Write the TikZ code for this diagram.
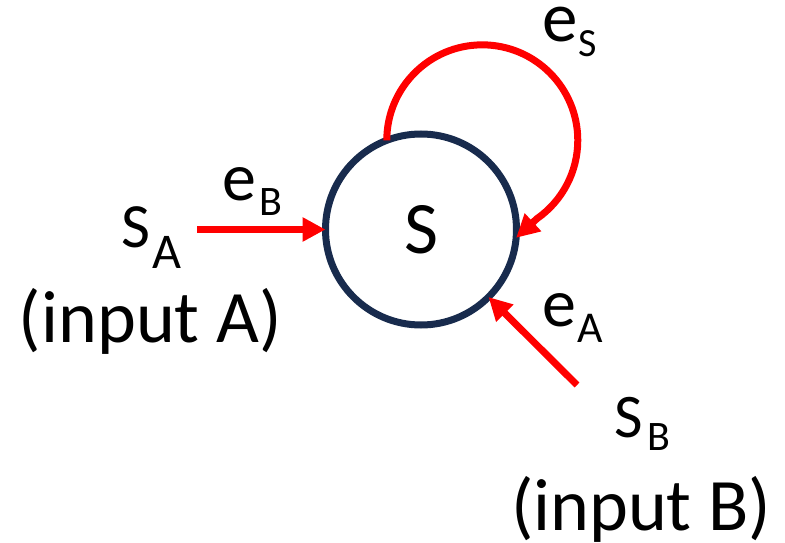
\documentclass[tikz,border=0pt]{standalone}
\usepackage{fontspec}
\setmainfont{Carlito}
\usetikzlibrary{arrows.meta}
\definecolor{navy}{RGB}{24,43,77}
\definecolor{linkred}{RGB}{255,0,0}
\newcommand{\fs}[1]{\fontsize{#1pt}{#1pt}\selectfont}
\begin{document}
\begin{tikzpicture}[x=1pt,y=-1pt,
  txt/.style={anchor=base west, inner sep=0pt, outer sep=0pt},
  rarrow/.style={draw=linkred, line width=7pt, -{Triangle[length=23pt,width=23pt]}},
  state/.style={circle, draw=navy, line width=7pt, minimum size=191pt, inner sep=0pt, outer sep=0pt, font=\fs{74}}]
\useasboundingbox (0,0) rectangle (785,543);
\node[state] (S) at (421,229.5) {S};
% labels
\node[txt] (SA) at (121,247) {\fs{63}S\hspace{3pt}\raisebox{-21pt}{\fs{50}A}};
\node[txt] (inA) at (19,342) {\fs{74}(input A)};
\node[txt] (eB) at (222,200) {\fs{68}e\hspace{4pt}\raisebox{-15pt}{\fs{42}B}};
\node[txt] (eS) at (542,42) {\fs{71}e\hspace{1pt}\raisebox{-15pt}{\fs{40}S}};
\node[txt] (eA) at (542,326) {\fs{68}e\hspace{2pt}\raisebox{-16pt}{\fs{44}A}};
\node[txt] (SB) at (614,437) {\fs{62}S\hspace{5pt}\raisebox{-13pt}{\fs{42}B}};
\node[txt] (inB) at (511,530) {\fs{74}(input B)};
% connectors
\coordinate (eBstart) at (197,229.5);
\coordinate (eAstart) at (577,385);
\draw[rarrow] (eBstart) -- (S.west);
\draw[rarrow] (eAstart) -- (S.-45);
\draw[rarrow] (S.111) arc[start angle=180, end angle=415, radius=95.5] -- (S.-5);
\end{tikzpicture}
\end{document}
